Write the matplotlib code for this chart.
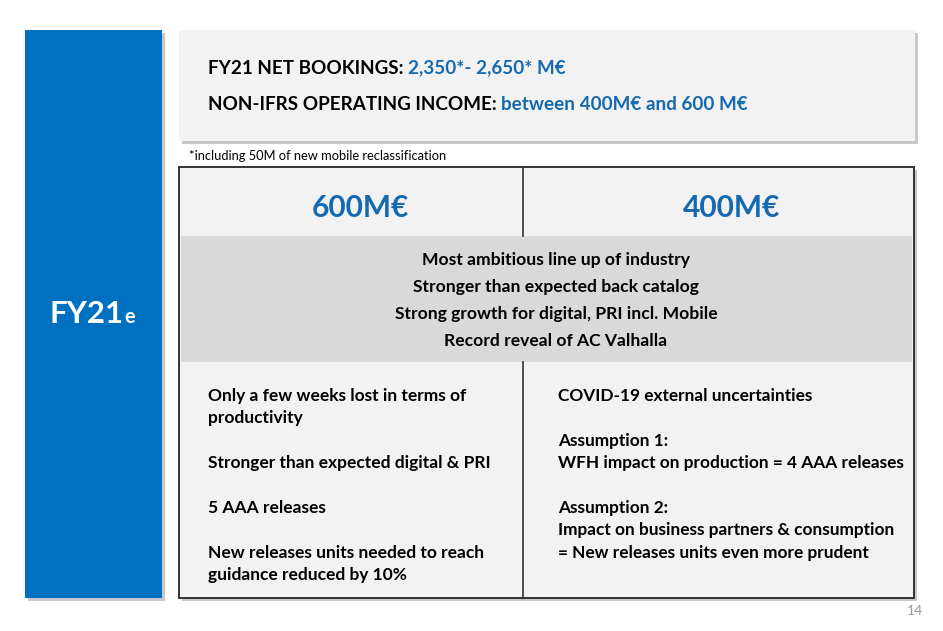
import matplotlib
matplotlib.use("Agg")
import matplotlib.pyplot as plt
from matplotlib.patches import Rectangle

plt.rcParams['font.family'] = ['Lato', 'DejaVu Sans']

# ---- slide content ----
headline_labels = ["FY21 NET BOOKINGS: ", "NON-IFRS OPERATING INCOME: "]
headline_values = ["2,350*- 2,650* M\u20ac", "between 400M\u20ac and 600 M\u20ac"]
footnote = "*including 50M of new mobile reclassification"
scenario_titles = ["600M\u20ac", "400M\u20ac"]
common_drivers = [
    "Most ambitious line up of industry",
    "Stronger than expected back catalog",
    "Strong growth for digital, PRI incl. Mobile",
    "Record reveal of AC Valhalla",
]
left_lines = [
    "Only a few weeks lost in terms of", "productivity", "",
    "Stronger than expected digital & PRI", "",
    "5 AAA releases", "",
    "New releases units needed to reach", "guidance reduced by 10%",
]
right_lines = [
    "COVID-19 external uncertainties", "",
    "Assumption 1:", "WFH impact on production = 4 AAA releases", "",
    "Assumption 2:", "Impact on business partners & consumption",
    "= New releases units even more prudent",
]
side_label = "FY21"
side_suffix = "e"
page_number = "14"

BLUE = "#0070C0"
TXT_BLUE = "#1469B0"
LIGHT = "#F2F2F2"
MID = "#D9D9D9"
SHADOW = "#C8C8C8"

W, H = 943, 631
fig = plt.figure(figsize=(W / 100, H / 100), dpi=100, facecolor="white")
ax = fig.add_axes([0, 0, 1, 1])
ax.set_xlim(0, W)
ax.set_ylim(H, 0)
ax.axis("off")


def box(x0, y0, x1, y1, color, shadow=True, edge=None, lw=0, z=1):
    if shadow:
        ax.add_patch(Rectangle((x0 + 3, y0 + 3), x1 - x0, y1 - y0,
                               facecolor=SHADOW, edgecolor="none", zorder=z - 0.5))
    ax.add_patch(Rectangle((x0, y0), x1 - x0, y1 - y0, facecolor=color,
                           edgecolor=edge if edge else "none", linewidth=lw, zorder=z))


# blue side bar
box(25, 30, 162, 598, BLUE)
t = ax.text(50, 323, side_label, color="white", fontsize=22.5, fontweight="bold",
            va="baseline", ha="left", zorder=5)
fig.canvas.draw()
r = fig.canvas.get_renderer()
bb = t.get_window_extent(r)
ax.text(bb.x1 + 0.2, 323, side_suffix, color="white", fontsize=14.5, fontweight="bold",
        va="baseline", ha="left", zorder=5)

# top headline box
box(179, 30, 915, 141, LIGHT)
for i, (lab, val) in enumerate(zip(headline_labels, headline_values)):
    y = 68 + i * 37
    t = ax.text(208, y, lab, color="black", fontsize=13.6, fontweight="bold",
                va="center", ha="left", zorder=5)
    bb = t.get_window_extent(r)
    ax.text(bb.x1, y, val, color=TXT_BLUE, fontsize=13.6, fontweight="bold",
            va="center", ha="left", zorder=5)

ax.text(189, 156, footnote, fontsize=9.3, color="black", va="center", ha="left", zorder=5)

# table
tx0, tx1, ty0, ty1 = 179, 914, 167, 598
xmid = 523
box(tx0, ty0, tx1, ty1, LIGHT, edge="#333333", lw=1.2, z=2)
ax.add_patch(Rectangle((tx0 + 2, 236), tx1 - tx0 - 4, 126, facecolor=MID,
                       edgecolor="none", zorder=3))
ax.plot([xmid, xmid], [ty0, 236], color="#333333", lw=1.2, zorder=4)
ax.plot([xmid, xmid], [362, ty1], color="#333333", lw=1.2, zorder=4)
ax.add_patch(Rectangle((tx0, ty0), tx1 - tx0, ty1 - ty0, facecolor="none",
                       edgecolor="#333333", linewidth=1.2, zorder=4))

for cx, title in zip([(tx0 + xmid) / 2 + 9, (xmid + tx1) / 2 + 13], scenario_titles):
    ax.text(cx, 208, title, color=TXT_BLUE, fontsize=21.5, fontweight="bold",
            va="center", ha="center", zorder=5)

for i, line in enumerate(common_drivers):
    ax.text(556, 260 + i * 27, line, fontsize=12.6, fontweight="bold",
            va="center", ha="center", zorder=5)

step = 22.4
for i, line in enumerate(left_lines):
    if line:
        ax.text(208, 396 + i * step, line, fontsize=12.5, fontweight="bold",
                va="center", ha="left", zorder=5)
for i, line in enumerate(right_lines):
    if line:
        ax.text(558, 396 + i * step, line, fontsize=12.4, fontweight="bold",
                va="center", ha="left", zorder=5)

ax.text(923, 611, page_number, fontsize=10, color="#999999", va="center", ha="right")

fig.savefig("out.png", dpi=100, facecolor="white")
